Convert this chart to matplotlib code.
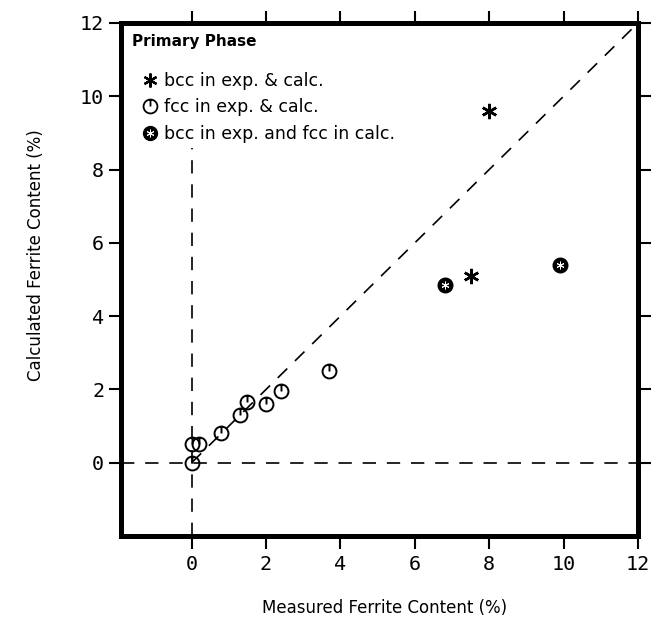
import matplotlib
matplotlib.use("Agg")
import matplotlib.pyplot as plt
from matplotlib.path import Path
from matplotlib.lines import Line2D

# ---- data ----
bcc_x = [8.0, 7.5]
bcc_y = [9.6, 5.1]

fcc_x = [0.0, 0.0, 0.2, 0.8, 1.3, 1.5, 2.0, 2.4, 3.7]
fcc_y = [0.0, 0.5, 0.5, 0.8, 1.3, 1.65, 1.6, 1.95, 2.5]

mix_x = [6.8, 9.9]
mix_y = [4.85, 5.4]

ticks = [0, 2, 4, 6, 8, 10, 12]
tick_labels = ["0", "2", "4", "6", "8", "10", "12"]

fig = plt.figure(figsize=(6.67, 6.28), dpi=100)
ax = fig.add_axes([0.1814, 0.1465, 0.7751, 0.8169])
ax.set_xlim(-1.9, 12)
ax.set_ylim(-2, 12)

dash = dict(color="black", lw=1.2, dashes=(8, 6.5))
ax.axhline(0, zorder=1, **dash)
ax.axvline(0, ymax=0.756, zorder=1, **dash)
ax.plot([0, 12], [0, 12], zorder=1, **dash)

# custom marker: circle with tick from top to centre
circ = Path.unit_circle()
tick = Path([[0, 1], [0, 0]], [Path.MOVETO, Path.LINETO])
fcc_marker = Path.make_compound_path(circ, tick)

ax.plot(bcc_x, bcc_y, linestyle="none", marker=(6, 2, 0), ms=11,
        mew=1.8, color="black", zorder=3)
ax.plot(fcc_x, fcc_y, linestyle="none", marker=fcc_marker, ms=10,
        mew=1.4, mfc="none", mec="black", zorder=3)
ax.plot(mix_x, mix_y, linestyle="none", marker="o", ms=10.5,
        mfc="black", mec="black", zorder=3)
ax.plot(mix_x, mix_y, linestyle="none", marker=(6, 2, 0), ms=5.5,
        mew=0.7, color="white", zorder=4)

for s in ax.spines.values():
    s.set_linewidth(3.6)

ax.set_xticks(ticks)
ax.set_xticklabels(tick_labels)
ax.set_yticks(ticks)
ax.set_yticklabels(tick_labels)
ax.tick_params(direction="out", length=9, width=1.5, top=True, right=True,
               labelsize=14.5, color="black")
ax.tick_params(axis="x", pad=5)
ax.tick_params(axis="y", pad=3)
for lab in ax.get_xticklabels() + ax.get_yticklabels():
    lab.set_family("DejaVu Sans Mono")

ax.set_xlabel("Measured Ferrite Content (%)", fontsize=12)
ax.set_ylabel("Calculated Ferrite Content (%)", fontsize=12)
ax.xaxis.set_label_coords(0.51, -0.14)
ax.yaxis.set_label_coords(-0.164, 0.548)
ax.xaxis.label.set_va("center")
ax.yaxis.label.set_va("center")

ax.text(0.021, 0.963, "Primary Phase", transform=ax.transAxes,
        fontsize=11, fontweight="semibold", ha="left", va="center")

h_bcc = Line2D([], [], linestyle="none", marker=(6, 2, 0), ms=10, mew=1.6,
               color="black")
h_fcc = Line2D([], [], linestyle="none", marker=fcc_marker, ms=10, mew=1.3,
               mfc="none", mec="black")
h_mix1 = Line2D([], [], linestyle="none", marker="o", ms=10,
                mfc="black", mec="black")
h_mix2 = Line2D([], [], linestyle="none", marker=(6, 2, 0), ms=5.5,
                mew=0.7, color="white")
leg = ax.legend([h_bcc, h_fcc, (h_mix1, h_mix2)],
                ["bcc in exp. & calc.", "fcc in exp. & calc.",
                 "bcc in exp. and fcc in calc."],
                loc="upper left", bbox_to_anchor=(0.0193, 0.918),
                fontsize=12.5, frameon=False,
                handlelength=1.4, handletextpad=0.1, labelspacing=0.48,
                borderpad=0.4, borderaxespad=0.0)
leg.set_zorder(5)

fig.savefig("out.png", dpi=100)
